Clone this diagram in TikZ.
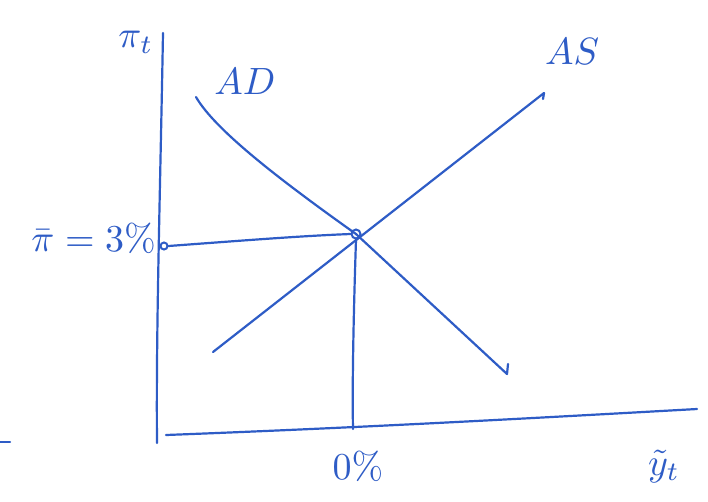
\documentclass[tikz,border=0pt]{standalone}
\usepackage{graphicx}
\begin{document}
\begin{tikzpicture}[x=1pt,y=-1pt,
  ink/.style={draw=inkblue,line width=2.2pt,line cap=round,line join=round},
  lbl/.style={text=inkblue,inner sep=0pt},
  dotc/.style={circle,draw=inkblue,line width=2pt,inner sep=0pt,minimum size=9pt}]
\definecolor{inkblue}{HTML}{2E5CC6}
\newcommand{\bigtxt}[1]{\scalebox{3.8}{#1}}
\useasboundingbox[fill=white] (0,0) rectangle (708,501);
% axes
\coordinate (ytop) at (163,33);
\coordinate (ybot) at (157,443);
\coordinate (xl) at (166,435);
\coordinate (xr) at (697,409);
\draw[ink] (ytop) .. controls (160,200) and (156,330) .. (ybot);
\draw[ink] (xl) .. controls (350,428) and (500,420) .. (xr);
% curves
\coordinate (adS) at (196,97);
\coordinate (adE) at (507,374);
\coordinate (asS) at (213,352);
\coordinate (asE) at (544,93);
\node[dotc] (eq) at (356,234) {};
\node[dotc,minimum size=7pt] (pi3) at (164,246) {};
\coordinate (zero) at (353,429);
\draw[ink] (adS) .. controls (215,130) and (280,180) .. (eq.center) -- (adE) -- ++(1,-10);
\draw[ink] (asS) -- (asE) -- ++(-1,6);
\draw[ink] (pi3.east) .. controls (250,240) and (300,236) .. (eq.west);
\draw[ink] (eq.south) .. controls (354,300) and (352,380) .. (zero);
% stray mark
\coordinate (m1) at (0,442);
\coordinate (m2) at (10,442);
\draw[ink] (m1) -- (m2);
% labels
\node[lbl] (pit) at (136,42) {\bigtxt{$\pi_t$}};
\node[lbl] (ad) at (245,82) {\bigtxt{$AD$}};
\node[lbl] (as) at (572,52) {\bigtxt{$AS$}};
\node[lbl,anchor=east] (pibar) at (156,238) {\bigtxt{$\bar{\pi}=3\%$}};
\node[lbl] (zl) at (358,466) {\bigtxt{$0\%$}};
\node[lbl] (yt) at (664,466) {\bigtxt{$\tilde{y}_t$}};
\end{tikzpicture}
\end{document}
